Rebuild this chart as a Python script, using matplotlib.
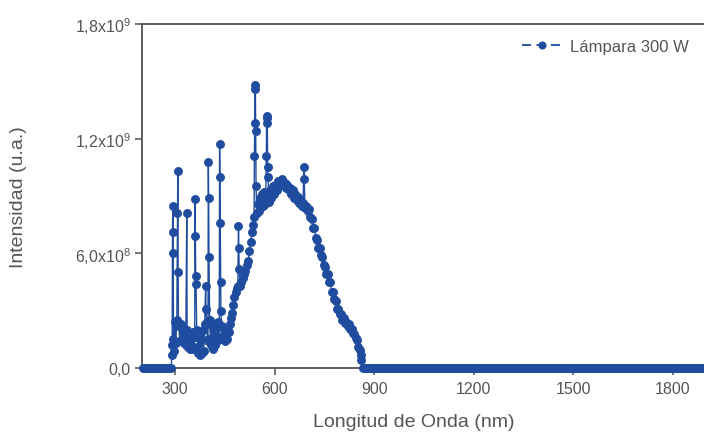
import numpy as np
import matplotlib
matplotlib.use('Agg')
import matplotlib.pyplot as plt
from matplotlib.lines import Line2D

# smooth lamp continuum (wavelength in nm, intensity in units of 1e8)
cont_wl = [296, 299, 302, 305, 311, 314, 317, 320, 323, 326, 329, 332, 338, 341,
           344, 347, 350, 353, 356, 365, 368, 371, 374, 377, 380, 383, 386, 389,
           395, 398, 404, 407, 410, 413, 416, 419, 422, 425, 428, 431, 440, 443,
           446, 449, 452, 455, 458, 461, 464, 467, 470, 474, 478, 482, 486, 489,
           496, 500, 504, 508, 512, 516, 520, 524, 528, 532, 535, 538, 546, 549,
           552, 555, 558, 561, 564, 567, 570, 573, 583, 586, 590, 594, 598, 602,
           606, 610, 614, 618, 622, 626, 630, 634, 638, 642, 646, 650, 654, 658,
           662, 666, 670, 674, 678, 682, 686, 692, 696, 700, 704, 708, 712, 716,
           720, 724, 728, 732, 736, 740, 744, 748, 752, 756, 760, 764, 768, 772,
           776, 780, 784, 788, 792, 796, 800, 804, 808, 812, 816, 820, 824, 828,
           832, 836, 840, 844, 848, 852, 856, 859, 862]
cont_val = [0.9, 2.4, 1.3, 2.5, 2.2, 1.4, 2.3, 1.5, 2.1, 1.3, 2.0, 1.2, 1.1, 1.8,
            1.0, 1.7, 1.0, 1.9, 1.1, 2.0, 0.8, 1.8, 0.7, 1.9, 0.8, 2.0, 0.9, 2.3,
            2.4, 1.4, 2.5, 1.2, 2.2, 1.0, 2.1, 1.2, 2.3, 1.4, 2.4, 1.5, 2.2, 1.5,
            2.0, 1.4, 1.9, 1.5, 2.0, 1.9, 2.3, 2.6, 2.9, 3.3, 3.7, 4.0, 4.2, 4.3,
            4.3, 4.5, 4.7, 4.9, 5.1, 5.4, 5.6, 6.1, 6.6, 7.1, 7.5, 7.9, 8.1, 8.6,
            8.2, 8.9, 8.4, 9.1, 8.5, 9.2, 8.6, 9.0, 8.7, 9.3, 8.9, 9.5, 9.1, 9.6,
            9.3, 9.8, 9.5, 9.75, 9.9, 9.6, 9.7, 9.4, 9.6, 9.3, 9.4, 9.1, 9.3, 8.9,
            9.1, 8.8, 8.95, 8.65, 8.8, 8.5, 8.65, 8.35, 8.5, 8.2, 8.3, 7.9, 7.8, 7.3,
            7.3, 6.8, 6.7, 6.3, 6.3, 5.9, 5.8, 5.4, 5.3, 4.9, 4.9, 4.5, 4.5, 4.0,
            4.0, 3.6, 3.5, 3.1, 3.1, 2.8, 2.8, 2.5, 2.6, 2.35, 2.4, 2.2, 2.3, 2.05,
            2.05, 1.85, 1.8, 1.55, 1.45, 1.1, 0.95, 0.7, 0.4]

# emission lines sitting on top of the continuum
line_wl = [290, 291, 292, 293, 294, 295, 307, 308, 309, 310,
           335, 336, 359, 360, 361, 362, 363, 392, 393,
           399, 400, 401, 402, 433, 434, 435, 436, 437, 438,
           491, 492, 493, 539, 540, 541, 542, 543, 544,
           575, 576, 577, 578, 579, 580, 688, 689]
line_val = [0.7, 1.2, 7.1, 8.5, 6.0, 1.5, 8.1, 10.3, 5.0, 2.4,
            8.1, 2.0, 1.6, 8.85, 6.9, 4.8, 4.4, 4.3, 3.1,
            1.5, 10.8, 8.9, 5.8, 1.6, 11.7, 10.0, 7.6, 4.5, 3.0,
            7.45, 6.3, 5.2, 11.1, 12.8, 14.8, 14.6, 12.4, 9.5,
            11.1, 13.2, 13.1, 12.8, 10.5, 10.0, 10.5, 9.9]

# flat zero baseline outside the emission range
head_wl = list(range(204, 289, 6))
tail_wl = list(range(866, 1905, 6))
head_val = [0.0] * len(head_wl)
tail_val = [0.0] * len(tail_wl)

wl = np.array(head_wl + cont_wl + line_wl + tail_wl, dtype=float)
val = np.array(head_val + cont_val + line_val + tail_val) * 1e8
order = np.argsort(wl, kind='stable')
wl, val = wl[order], val[order]

blue = '#1f4c9e'
grey = '#555555'
plt.rcParams['font.family'] = ['Liberation Sans', 'DejaVu Sans']
plt.rcParams['mathtext.fontset'] = 'custom'
plt.rcParams['mathtext.rm'] = 'Liberation Sans'

fig = plt.figure(figsize=(7.04, 4.39), dpi=100)
ax = fig.add_axes([142 / 704, 1 - 369 / 439, (704 - 142) / 704, 344 / 439])

ax.plot(wl, val, color=blue, lw=1.0, marker='o', ms=5.4, mec=blue, mfc=blue,
        clip_on=False, zorder=3)

ax.set_xlim(200, 1895)
ax.set_ylim(0, 1.8e9)
ax.set_xticks([300, 600, 900, 1200, 1500, 1800])
ax.set_yticks([0, 6e8, 1.2e9, 1.8e9])
ax.set_yticklabels(['0,0', r'6,0x10$^{\rm 8}$', r'1,2x10$^{\rm 9}$',
                    r'1,8x10$^{\rm 9}$'])

for s in ['left', 'bottom', 'top']:
    ax.spines[s].set_color('#505050')
    ax.spines[s].set_linewidth(1.3)
ax.spines['right'].set_visible(False)
ax.tick_params(direction='out', length=5, width=1.1, color='#505050',
               labelcolor=grey)
ax.tick_params(axis='x', labelsize=11.5, pad=4)
ax.tick_params(axis='y', labelsize=11.5, pad=3)

ax.set_xlabel('Longitud de Onda (nm)', fontsize=14, color=grey)
ax.set_ylabel('Intensidad (u.a.)', fontsize=14, color=grey)
ax.xaxis.set_label_coords(0.484, -0.13)
ax.yaxis.set_label_coords(-0.205, 0.5)

handle = Line2D([], [], color=blue, lw=1.3, marker='o', ms=4.8,
                dashes=(5, 3))
ax.legend([handle], ['Lámpara 300 W'], loc='center right', frameon=False,
          bbox_to_anchor=(1.0, 0.935), fontsize=12, labelcolor=grey,
          handlelength=2.4, handletextpad=0.5)

fig.savefig('out.png', dpi=100)
